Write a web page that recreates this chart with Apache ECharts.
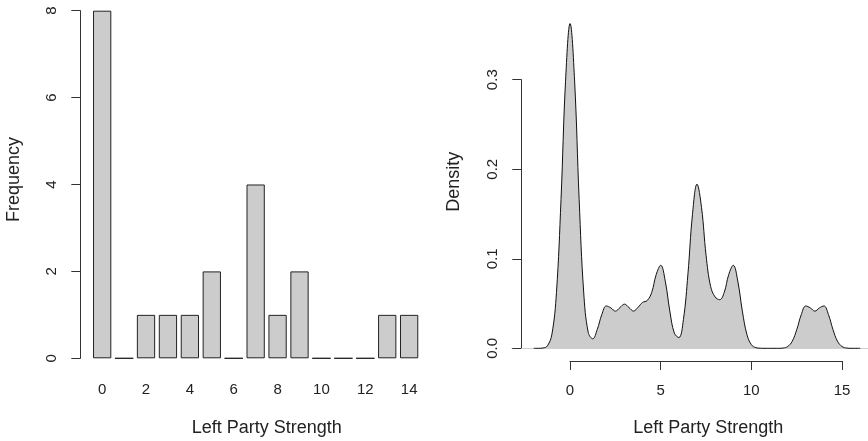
<!DOCTYPE html>
<html>
<head>
<meta charset="utf-8">
<script src="https://cdn.jsdelivr.net/npm/echarts@6/dist/echarts.min.js"></script>
<style>html,body{margin:0;padding:0;background:#fff}#c{width:868px;height:441px}</style>
</head>
<body>
<div id="c"></div>
<script>
// Histogram (left)
const categories = ['0','1','2','3','4','5','6','7','8','9','10','11','12','13','14'];
const frequency = [8,0,1,1,1,2,0,4,1,2,0,0,0,1,1];
const freqTicks = [0,2,4,6,8];
// Density (right)
const densityX = [-2,-1.75,-1.5,-1.25,-1,-0.75,-0.5,-0.25,0,0.25,0.5,0.75,1,1.25,1.5,1.75,2,2.25,2.5,2.75,3,3.25,3.5,3.75,4,4.25,4.5,4.75,5,5.25,5.5,5.75,6,6.25,6.5,6.75,7,7.25,7.5,7.75,8,8.25,8.5,8.75,9,9.25,9.5,9.75,10,10.25,10.5,10.75,11,11.25,11.5,11.75,12,12.25,12.5,12.75,13,13.25,13.5,13.75,14,14.25,14.5,14.75,15,15.25,15.5,15.75,16];
const densityY = [0,0,0.0003,0.0028,0.0159,0.0625,0.1660,0.2983,0.3627,0.2983,0.1661,0.0629,0.0179,0.0106,0.0211,0.0377,0.0473,0.0451,0.0415,0.0455,0.0493,0.0455,0.0416,0.0458,0.0513,0.0533,0.0623,0.0824,0.0927,0.0749,0.0417,0.0170,0.0120,0.0320,0.0831,0.1495,0.1833,0.1570,0.1038,0.0692,0.0573,0.0543,0.0624,0.0824,0.0927,0.0749,0.0416,0.0156,0.0040,0.0007,0.0001,0,0,0,0,0.0003,0.0020,0.0078,0.0208,0.0376,0.0473,0.0451,0.0415,0.0451,0.0473,0.0376,0.0208,0.0078,0.0020,0.0003,0,0,0];
const densityTicksX = [0,5,10,15];
const densityTicksY = [0.0,0.1,0.2,0.3];
const xTitle = 'Left Party Strength';
const yTitleLeft = 'Frequency';
const yTitleRight = 'Density';

const FONT = '"Liberation Sans", Arial, Helvetica, sans-serif';
const INK = '#222';
const chart = echarts.init(document.getElementById('c'), null, {renderer:'canvas'});
const densityData = densityX.map((x,i)=>[x, densityY[i]]);

const option = {
  animation: false,
  backgroundColor: '#fff',
  textStyle: {fontFamily: FONT},
  grid: [
    {left: 91.2, width: 328.9, top: 10.7, bottom: 82.7},
    {left: 521.3, right: 0, top: 79.7, bottom: 92.7},
    {left: 511.7, right: 0, top: 79.7, bottom: 92.7, z: 0},
    {left: 570, right: 26, top: 79.7, bottom: 92.7}
  ],
  xAxis: [
    {gridIndex:0, type:'category', data: categories,
     axisLine:{show:false}, axisTick:{show:false},
     axisLabel:{interval:1, margin:24, fontSize:15, color:INK, fontFamily:FONT}},
    {gridIndex:1, type:'value', min:-2.69, max:16.43, show:false},
    {gridIndex:2, type:'value', min:0, max:1, show:true,
     splitLine:{show:false}, axisTick:{show:false}, axisLabel:{show:false},
     axisLine:{show:true, onZero:false, lineStyle:{color:'#cfcfcf', width:1}}},
    {gridIndex:3, type:'value', min:densityTicksX[0], max:densityTicksX[densityTicksX.length-1], interval:5, offset:12.7,
     splitLine:{show:false},
     axisLine:{show:true, onZero:false, lineStyle:{color:'#333', width:1}},
     axisTick:{show:true, length:9, lineStyle:{color:'#333'}},
     axisLabel:{margin:22, fontSize:15, color:INK, fontFamily:FONT}}
  ],
  yAxis: [
    {gridIndex:0, type:'value', min:freqTicks[0], max:freqTicks[freqTicks.length-1], interval:2, offset:10.9,
     splitLine:{show:false},
     axisLine:{show:true, onZero:false, lineStyle:{color:'#333', width:1}},
     axisTick:{show:true, length:9, lineStyle:{color:'#333'}},
     axisLabel:{rotate:90, margin:21, fontSize:15, color:INK, fontFamily:FONT}},
    {gridIndex:1, type:'value', min:densityTicksY[0], max:densityTicksY[densityTicksY.length-1], interval:0.1,
     splitLine:{show:false},
     axisLine:{show:true, onZero:false, lineStyle:{color:'#333', width:1}},
     axisTick:{show:true, length:9, lineStyle:{color:'#333'}},
     axisLabel:{rotate:90, margin:21, fontSize:15, color:INK, fontFamily:FONT, formatter:v=>v.toFixed(1)}},
    {gridIndex:2, type:'value', min:0, max:1, show:false},
    {gridIndex:3, type:'value', min:0, max:1, show:false}
  ],
  series: [
    {type:'bar', xAxisIndex:0, yAxisIndex:0, data: frequency, barCategoryGap:'16.6%',
     itemStyle:{color:'#cccccc', borderColor:'#222', borderWidth:1}},
    {type:'line', xAxisIndex:1, yAxisIndex:1, data: densityData, smooth:0.4, clip:false,
     showSymbol:false, symbol:'none',
     lineStyle:{color:'#111', width:1},
     areaStyle:{color:'#cccccc', opacity:1}, z:3}
  ],
  graphic: [
    {type:'text', x:266.7, y:428, style:{text:xTitle, font:'18px '+FONT, fill:INK, align:'center', verticalAlign:'middle'}},
    {type:'text', x:708.3, y:428, style:{text:xTitle, font:'18px '+FONT, fill:INK, align:'center', verticalAlign:'middle'}},
    {type:'text', x:14, y:179.5, rotation:Math.PI/2, style:{text:yTitleLeft, font:'18px '+FONT, fill:INK, align:'center', verticalAlign:'middle'}},
    {type:'text', x:454, y:181.7, rotation:Math.PI/2, style:{text:yTitleRight, font:'18px '+FONT, fill:INK, align:'center', verticalAlign:'middle'}}
  ]
};
chart.setOption(option);
</script>
</body>
</html>
